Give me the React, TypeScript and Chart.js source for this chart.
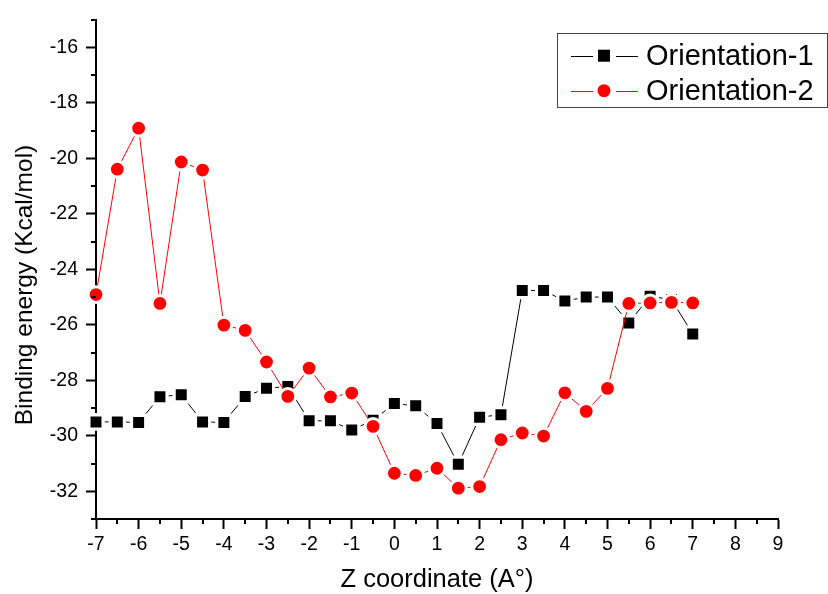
import React, { useEffect, useRef } from 'react';
import { Chart, registerables } from 'chart.js';
Chart.register(...registerables);

const zValues = [-7, -6.5, -6, -5.5, -5, -4.5, -4, -3.5, -3, -2.5, -2, -1.5, -1, -0.5, 0, 0.5, 1, 1.5, 2, 2.5, 3, 3.5, 4, 4.5, 5, 5.5, 6, 6.5, 7];
const orientation1 = [-29.5, -29.5, -29.52, -28.59, -28.52, -29.5, -29.52, -28.58, -28.29, -28.22, -29.46, -29.46, -29.79, -29.44, -28.84, -28.92, -29.56, -31.03, -29.33, -29.24, -24.76, -24.76, -25.14, -25.0, -25.0, -25.93, -24.97, -25.09, -26.33];
const orientation2 = [-24.91, -20.39, -18.91, -25.23, -20.13, -20.42, -26.01, -26.2, -27.34, -28.58, -27.56, -28.6, -28.46, -29.66, -31.35, -31.43, -31.17, -31.89, -31.83, -30.14, -29.9, -30.01, -28.45, -29.12, -28.29, -25.23, -25.21, -25.19, -25.21];
const seriesLabels = ['Orientation-1', 'Orientation-2'];
const xTickValues = [-7, -6, -5, -4, -3, -2, -1, 0, 1, 2, 3, 4, 5, 6, 7, 8, 9];
const yTickValues = [-32, -30, -28, -26, -24, -22, -20, -18, -16];
const xMinorTicks = [-6.5, -5.5, -4.5, -3.5, -2.5, -1.5, -0.5, 0.5, 1.5, 2.5, 3.5, 4.5, 5.5, 6.5, 7.5, 8.5];
const yMinorTicks = [-33, -31, -29, -27, -25, -23, -21, -19, -17, -15];
const xTitle = 'Z coordinate (A°)';
const yTitle = 'Binding energy (Kcal/mol)';

const FONT = "'Liberation Sans', Arial, sans-serif";

export default function App() {
  const ref = useRef<HTMLCanvasElement>(null);

  useEffect(() => {
    const canvas = ref.current;
    if (!canvas) return;

    const decor = {
      id: 'decor',
      afterDraw(chart: any) {
        const ctx = chart.ctx as CanvasRenderingContext2D;
        const xs = chart.scales.x;
        const ys = chart.scales.y;
        ctx.save();
        // minor ticks
        ctx.strokeStyle = '#000';
        ctx.lineWidth = 2;
        ctx.beginPath();
        for (const v of xMinorTicks) {
          const px = Math.round(xs.getPixelForValue(v));
          ctx.moveTo(px, xs.top);
          ctx.lineTo(px, xs.top + 5);
        }
        for (const v of yMinorTicks) {
          const py = Math.round(ys.getPixelForValue(v));
          ctx.moveTo(ys.right, py);
          ctx.lineTo(ys.right - 5, py);
        }
        ctx.stroke();

        // axis titles
        ctx.fillStyle = '#000';
        ctx.textAlign = 'center';
        ctx.textBaseline = 'alphabetic';
        ctx.font = `25.5px ${FONT}`;
        ctx.fillText(xTitle, (xs.left + xs.right) / 2, 587);
        ctx.save();
        ctx.font = `24.5px ${FONT}`;
        ctx.translate(32, 285);
        ctx.rotate(-Math.PI / 2);
        ctx.fillText(yTitle, 0, 0);
        ctx.restore();

        // legend
        const boxX = 557.5, boxY = 33.5, boxW = 270, boxH = 74;
        ctx.strokeStyle = '#444';
        ctx.lineWidth = 1;
        ctx.strokeRect(boxX, boxY, boxW, boxH);
        const datasets = chart.data.datasets;
        for (let i = 0; i < datasets.length; i++) {
          const ds = datasets[i];
          const cy = 55.7 + i * 35;
          ctx.strokeStyle = ds.borderColor;
          ctx.lineWidth = 1;
          ctx.beginPath();
          ctx.moveTo(571, Math.round(cy) + 0.5);
          ctx.lineTo(593, Math.round(cy) + 0.5);
          ctx.moveTo(616, Math.round(cy) + 0.5);
          ctx.lineTo(638, Math.round(cy) + 0.5);
          ctx.stroke();
          ctx.fillStyle = ds.pointBackgroundColor;
          if (ds.pointStyle === 'rect') {
            ctx.fillRect(598, cy - 6, 12, 12);
          } else {
            ctx.beginPath();
            ctx.arc(604, cy, 6.5, 0, Math.PI * 2);
            ctx.fill();
          }
          ctx.fillStyle = '#000';
          ctx.font = `29px ${FONT}`;
          ctx.textAlign = 'left';
          ctx.textBaseline = 'middle';
          ctx.fillText(ds.label, 646, cy + 1);
        }
        ctx.restore();
      },
    };

    const chart = new Chart(canvas, {
      type: 'line',
      data: {
        datasets: [
          {
            label: seriesLabels[0],
            data: zValues.map((x, i) => ({ x, y: orientation1[i] })),
            borderColor: '#000000',
            backgroundColor: '#000000',
            borderWidth: 1,
            pointStyle: 'rect',
            pointRadius: 10.1,
            pointHoverRadius: 10.1,
            pointBackgroundColor: '#000000',
            pointBorderColor: '#ffffff',
            pointBorderWidth: 3.3,
            tension: 0,
            clip: false as any,
            order: 1,
          },
          {
            label: seriesLabels[1],
            data: zValues.map((x, i) => ({ x, y: orientation2[i] })),
            borderColor: '#ff0000',
            backgroundColor: '#ff0000',
            borderWidth: 1,
            pointStyle: 'circle',
            pointRadius: 7.9,
            pointHoverRadius: 7.9,
            pointBackgroundColor: '#ff0000',
            pointBorderColor: '#ffffff',
            pointBorderWidth: 3,
            tension: 0,
            clip: false as any,
            order: 0,
          },
        ] as any,
      },
      options: {
        animation: false,
        responsive: false,
        layout: { padding: { top: 18, right: 50, left: 0, bottom: 0 } },
        plugins: { legend: { display: false }, tooltip: { enabled: false } },
        scales: {
          x: {
            type: 'linear',
            position: 'bottom',
            min: -7,
            max: 9,
            afterBuildTicks: (s: any) => {
              s.ticks = xTickValues.map((value) => ({ value }));
            },
            afterFit: (s: any) => {
              s.height = 75;
            },
            ticks: {
              autoSkip: false,
              maxRotation: 0,
              padding: 4,
              color: '#000',
              font: { size: 19.5, family: FONT },
              callback: (v: any) => String(v),
            },
            grid: { display: true, drawOnChartArea: false, drawTicks: true, tickLength: 10, tickWidth: 2, tickColor: '#000' },
            border: { display: true, color: '#000', width: 2 },
          },
          y: {
            type: 'linear',
            position: 'left',
            min: -33,
            max: -15,
            afterBuildTicks: (s: any) => {
              s.ticks = yTickValues.map((value) => ({ value }));
            },
            afterFit: (s: any) => {
              s.width = 96;
            },
            ticks: {
              autoSkip: false,
              padding: 8,
              color: '#000',
              font: { size: 19.5, family: FONT },
              callback: (v: any) => String(v),
            },
            grid: { display: true, drawOnChartArea: false, drawTicks: true, tickLength: 10, tickWidth: 2, tickColor: '#000' },
            border: { display: true, color: '#000', width: 2 },
          },
        },
      } as any,
      plugins: [decor],
    });

    return () => chart.destroy();
  }, []);

  return (
    <div style={{ position: 'absolute', left: 0, top: 0, width: 828, height: 594, background: '#fff' }}>
      <canvas ref={ref} width={828} height={594} style={{ display: 'block' }} />
    </div>
  );
}
